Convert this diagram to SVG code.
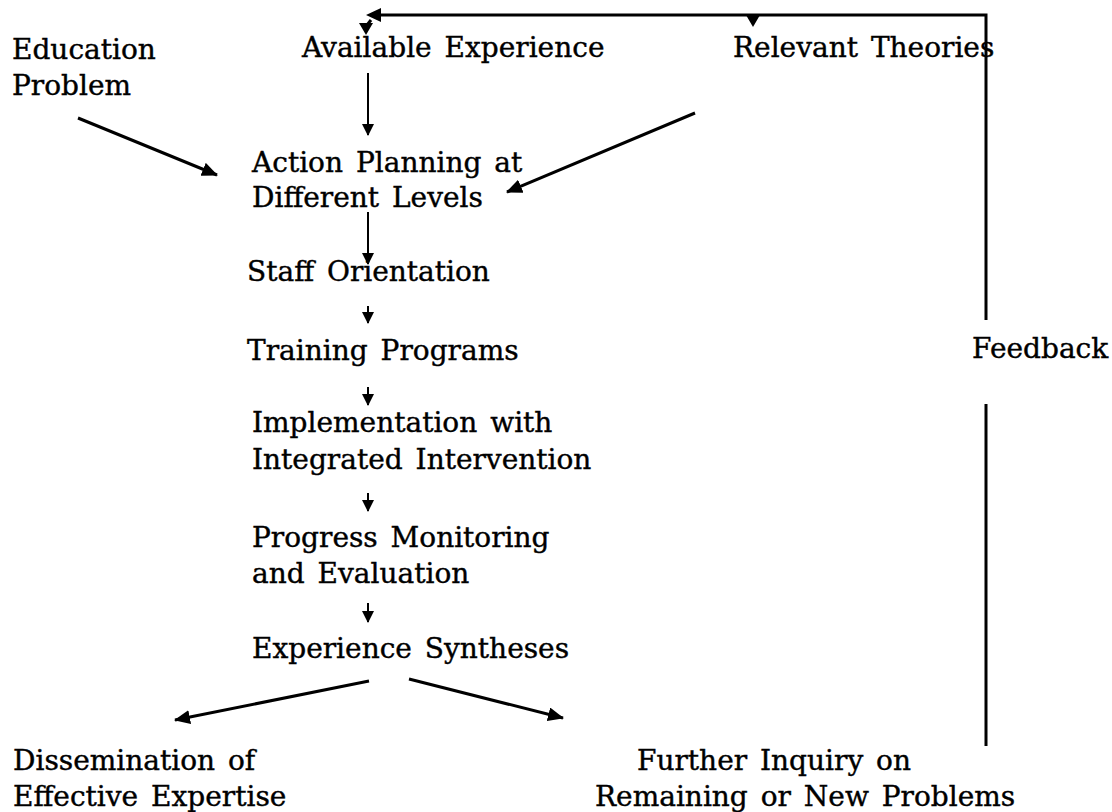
<svg xmlns="http://www.w3.org/2000/svg" width="1112" height="812" viewBox="0 0 1112 812">
  <style>
    text { font-family: "DejaVu Serif", "Liberation Serif", serif; font-size: 28px; word-spacing: 4px; fill: #000; stroke: #000; stroke-width: 0.4px; }
    .ln { stroke: #000; stroke-width: 3; fill: none; }
    .thin { stroke: #000; stroke-width: 2; fill: none; }
    .head { fill: #000; stroke: none; }
  </style>
  <defs>
    <marker id="ah" viewBox="0 0 16 14" refX="15" refY="7" markerWidth="16" markerHeight="14" orient="auto" markerUnits="userSpaceOnUse">
      <path d="M0,0 L16,7 L0,14 z" fill="#000"/>
    </marker>
    <marker id="ahs" viewBox="0 0 12 12" refX="11" refY="6" markerWidth="12" markerHeight="12" orient="auto" markerUnits="userSpaceOnUse">
      <path d="M0,0 L12,6 L0,12 z" fill="#000"/>
    </marker>
  </defs>

  <!-- nodes -->
  <g id="education-problem"><text x="12" y="59">Education</text><text x="12" y="95">Problem</text></g>
  <g id="available-experience"><text x="302" y="57">Available Experience</text></g>
  <g id="relevant-theories"><text x="733" y="57">Relevant Theories</text></g>
  <g id="action-planning"><text x="252" y="172">Action Planning at</text><text x="252" y="207">Different Levels</text></g>
  <g id="staff-orientation"><text x="247" y="281">Staff Orientation</text></g>
  <g id="training-programs"><text x="247" y="360">Training Programs</text></g>
  <g id="implementation"><text x="252" y="432">Implementation with</text><text x="252" y="469">Integrated Intervention</text></g>
  <g id="progress-monitoring"><text x="252" y="547">Progress Monitoring</text><text x="252" y="583">and Evaluation</text></g>
  <g id="experience-syntheses"><text x="252" y="658">Experience Syntheses</text></g>
  <g id="dissemination"><text x="13" y="770">Dissemination of</text><text x="13" y="806">Effective Expertise</text></g>
  <g id="further-inquiry"><text x="637" y="770">Further Inquiry on</text><text x="595" y="806">Remaining or New Problems</text></g>
  <g id="feedback"><text x="972" y="358">Feedback</text></g>

  <!-- connectors -->
  <g id="connectors">
    <!-- feedback loop back to the top row -->
    <path class="ln" d="M986,746 L986,404"/>
    <path class="ln" d="M986,320 L986,15 L378,15"/>
    <polygon class="head" points="366,15 381,8 381,22"/>
    <path class="ln" d="M371,20 L367,25"/>
    <polygon class="head" points="359,23 373,23 366,35"/>
    <polygon class="head" points="746,15 760,15 753,27"/>
    <!-- inputs to planning -->
    <path class="thin" d="M368,73 L368,135" marker-end="url(#ahs)"/>
    <path class="ln" d="M78,118 L217,175" marker-end="url(#ah)"/>
    <path class="ln" d="M695,113 L507,192" marker-end="url(#ah)"/>
    <!-- main chain -->
    <path class="thin" d="M368,212 L368,264" marker-end="url(#ahs)"/>
    <path class="thin" d="M368,306 L368,323" marker-end="url(#ahs)"/>
    <path class="thin" d="M368,387 L368,405" marker-end="url(#ahs)"/>
    <path class="thin" d="M368,493 L368,511" marker-end="url(#ahs)"/>
    <path class="thin" d="M368,603 L368,622" marker-end="url(#ahs)"/>
    <!-- outcomes -->
    <path class="ln" d="M369,681 L175,720" marker-end="url(#ah)"/>
    <path class="ln" d="M409,679 L563,718" marker-end="url(#ah)"/>
  </g>
</svg>
